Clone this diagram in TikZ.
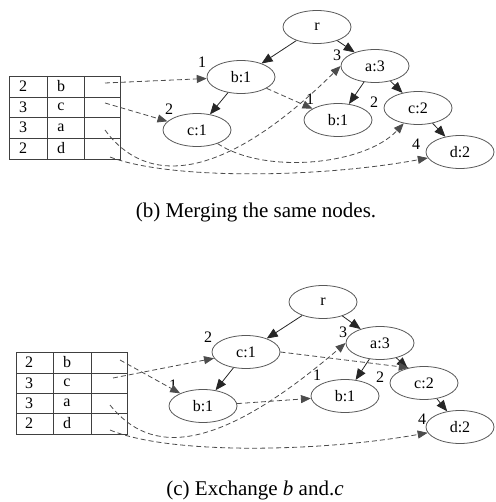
\documentclass[tikz,border=0pt]{standalone}
\usepackage{fontspec}
\setmainfont{Liberation Serif}
\usetikzlibrary{shapes.geometric,arrows.meta}
\tikzset{item/.style = {draw=black!65, thick, ellipse, minimum height=33pt, minimum width=68pt, inner sep=0pt, font=\fontsize{16}{19}\selectfont}}
\tikzset{lbl/.style = {inner sep=0pt, font=\fontsize{16}{19}\selectfont}}
\tikzset{grid/.style = {draw=black!75, thick}}
\tikzset{edge/.style = {draw=black!85, thick, -{Triangle[length=11pt,width=9pt]}}}
\tikzset{link/.style = {draw=black!70, thick, dash pattern=on 5pt off 3pt, -{Triangle[length=10pt,width=8pt]}}}

\begin{document}
\begin{tikzpicture}[x=1pt,y=-1pt]
    \useasboundingbox(0,0)rectangle(495,502);
    % (b) merged tree
    \draw[grid](9.5,76)rectangle(120,159);
    \draw[grid](47,76)--(47,159)(84,76)--(84,159);
    \draw[grid](9.5,97)--(120,97)(9.5,117)--(120,117)(9.5,138)--(120,138);
    \node[lbl](bn1)at(23,86.5){2};
    \node[lbl](bi1)at(61,86.5){b};
    \node[lbl](bn2)at(23,107){3};
    \node[lbl](bi2)at(61,107){c};
    \node[lbl](bn3)at(23,127.5){3};
    \node[lbl](bi3)at(61,127.5){a};
    \node[lbl](bn4)at(23,148.5){2};
    \node[lbl](bi4)at(61,148.5){d};
    \coordinate(bpb)at(105,83);
    \coordinate(bpc)at(105,103);
    \coordinate(bpa)at(105,130);
    \coordinate(bpd)at(110,157);
    \node[item](br)at(317,27){r};
    \node[item](bb1)at(241,77){b:1};
    \node[item](bc1)at(197,130){c:1};
    \node[item](ba3)at(375,66){a:3};
    \node[item](bb2)at(338,120){b:1};
    \node[item](bc2)at(418,108){c:2};
    \node[item](bd2)at(460,152){d:2};
    \node[lbl](bl1)at(202,62){1};
    \node[lbl](bl2)at(169,109){2};
    \node[lbl](bl3)at(337,55){3};
    \node[lbl](bl4)at(310,99){1};
    \node[lbl](bl5)at(374,102){2};
    \node[lbl](bl6)at(416,144){4};
    \draw[edge](br)--(bb1);
    \draw[edge](br)--(ba3);
    \draw[edge](bb1)--(bc1);
    \draw[edge](ba3)--(bb2);
    \draw[edge](ba3)--(bc2);
    \draw[edge](bc2)--(bd2);
    \draw[link](bpb)--(bb1);
    \draw[link](bpc)--(bc1);
    \draw[link](bpa)..controls(145,185)and(220,185)..(ba3.west);
    \draw[link](bc1)..controls(265,175)and(365,165)..(bc2);
    \draw[link](bb1)--(bb2);
    \draw[link](bpd)..controls(170,180)and(320,178)..(bd2);
    \node[font=\fontsize{21}{25}\selectfont](capb)at(256,212){(b) Merging the same nodes.};
    % (c) b and c swapped
    \draw[grid](16,352)rectangle(127,434);
    \draw[grid](53,352)--(53,434)(91,352)--(91,434);
    \draw[grid](16,373)--(127,373)(16,393)--(127,393)(16,413)--(127,413);
    \node[lbl](cn1)at(29,362.5){2};
    \node[lbl](ci1)at(67,362.5){b};
    \node[lbl](cn2)at(29,383){3};
    \node[lbl](ci2)at(67,383){c};
    \node[lbl](cn3)at(29,403){3};
    \node[lbl](ci3)at(67,403){a};
    \node[lbl](cn4)at(29,423.5){2};
    \node[lbl](ci4)at(67,423.5){d};
    \coordinate(cpb)at(120,360);
    \coordinate(cpc)at(113,378);
    \coordinate(cpa)at(110,405);
    \coordinate(cpd)at(110,430);
    \node[item](cr)at(323,302){r};
    \node[item](cc1)at(246,352){c:1};
    \node[item](cb1)at(203,406){b:1};
    \node[item](ca3)at(380,343){a:3};
    \node[item](cb2)at(345,396){b:1};
    \node[item](cc2)at(424,383){c:2};
    \node[item](cd2)at(460,427){d:2};
    \node[lbl](cl1)at(208,337){2};
    \node[lbl](cl2)at(173,385){1};
    \node[lbl](cl3)at(343,332){3};
    \node[lbl](cl4)at(317,375){1};
    \node[lbl](cl5)at(380,377){2};
    \node[lbl](cl6)at(422,419){4};
    \draw[edge](cr)--(cc1);
    \draw[edge](cr)--(ca3);
    \draw[edge](cc1)--(cb1);
    \draw[edge](ca3)--(cb2);
    \draw[edge](ca3)--(cc2);
    \draw[edge](cc2)--(cd2);
    \draw[link](cpb)--(cb1);
    \draw[link](cpc)--(cc1);
    \draw[link](cpa)..controls(150,455)and(215,455)..(ca3.west);
    \draw[link](cc1.east)--(cc2.135);
    \draw[link](cb1)--(cb2);
    \draw[link](cpd)..controls(170,455)and(320,452)..(cd2);
    \node[font=\fontsize{21}{25}\selectfont](capc)at(255,490){(c) Exchange \textit{b} and.\textit{c}};
\end{tikzpicture}
\end{document}
